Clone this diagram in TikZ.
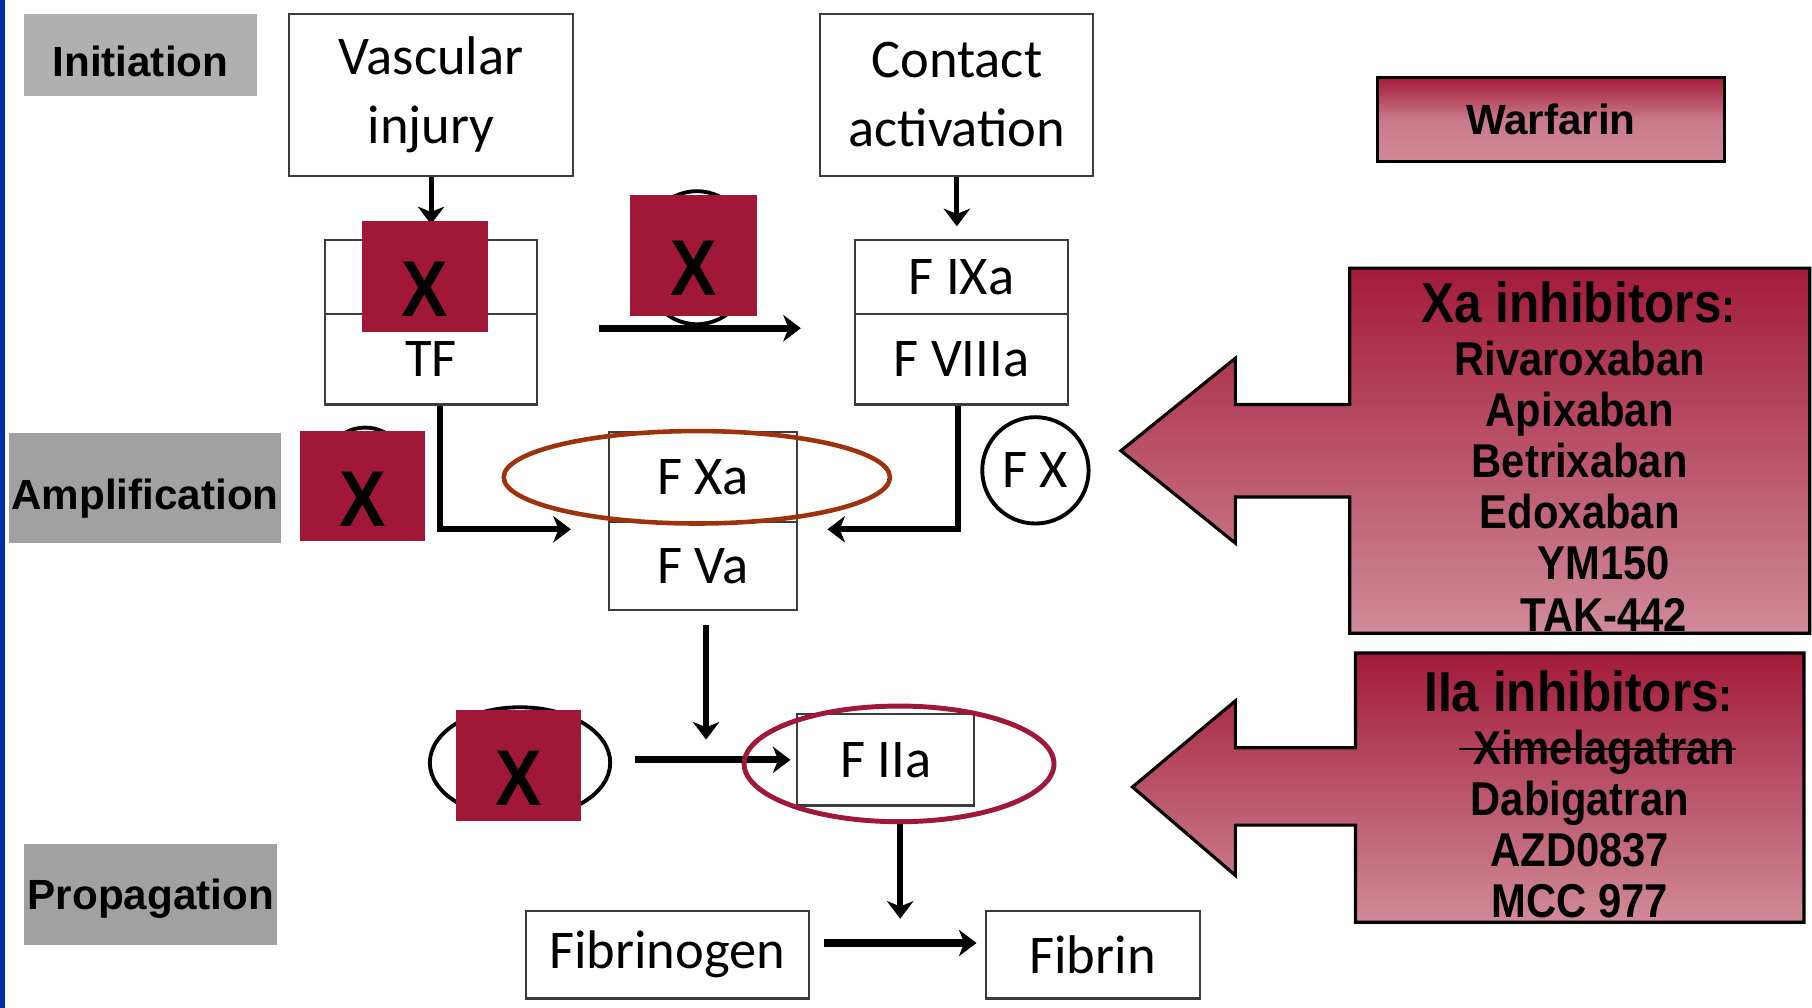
\documentclass[tikz,border=0pt]{standalone}
\usepackage{fontspec}
\setmainfont{Liberation Sans}
\newfontfamily\flowfont{Carlito}
\newfontfamily\narrowfont[FakeStretch=0.88]{Liberation Sans}
\usetikzlibrary{arrows.meta,positioning,shapes.geometric}

\newsavebox\strikebox
\newcommand\struck[1]{\sbox\strikebox{#1}\rlap{\rule[0.3em]{\wd\strikebox}{0.5pt}}\usebox\strikebox}

\definecolor{xred}{RGB}{160,23,55}
\definecolor{xabrown}{RGB}{158,50,12}
\definecolor{barblue}{RGB}{0,45,170}
\definecolor{stagelight}{RGB}{176,176,176}
\definecolor{stagegray}{RGB}{161,161,161}
\definecolor{cellline}{RGB}{60,60,60}
\definecolor{gradtop}{RGB}{163,27,58}
\definecolor{gradbot}{RGB}{208,138,152}

\begin{document}
\begin{tikzpicture}[x=0.011556cm,y=-0.011556cm,
	stage/.style={fill=stagegray,inner sep=0pt,text height=0.43cm,text depth=0pt,font=\bfseries\fontsize{12}{14}\selectfont},
	cell/.style={draw=cellline,line width=0.6pt,fill=white,inner sep=0pt,align=center,font=\flowfont\fontsize{15.5}{19.7}\selectfont},
	flow/.style={line width=1.4pt,-{Stealth[length=5pt,width=7.5pt,inset=1.5pt]}},
	ring/.style={draw,line width=1.1pt,circle,inner sep=0pt},
	xmark/.style={fill=xred,inner sep=0pt,text height=0.81cm,text depth=0pt,font=\narrowfont\bfseries\fontsize{22.5}{24}\selectfont},
	drug/.style={draw=black,line width=0.9pt,top color=gradtop,bottom color=gradbot},
	drugtext/.style={inner sep=0pt,align=center,font=\narrowfont\bfseries\fontsize{13.5}{14.56}\selectfont},
	drughead/.style={inner sep=0pt,font=\narrowfont\bfseries\fontsize{16}{18}\selectfont}
	]
	\useasboundingbox (0,0) rectangle (1568,872);
	\fill[barblue] (0,0) rectangle (4,872);

	\node[stage,fill=stagelight,minimum width=2.323cm,minimum height=0.820cm] (init) at (121.5,47.5) {Initiation};
	\node[stage,minimum width=2.716cm,minimum height=1.098cm] (ampl) at (125.5,422.5) {Amplification};
	\node[stage,text height=0.31cm,minimum width=2.531cm,minimum height=1.017cm] (prop) at (130.5,774) {Propagation};

	\node[cell,minimum width=2.843cm,minimum height=1.618cm] (vasc) at (373,82) {Vascular\\injury};
	\node[cell,minimum width=2.727cm,minimum height=1.618cm] (cont) at (828,82) {Contact\\activation};
	\node[cell,minimum width=2.126cm,minimum height=0.740cm] (tfup) at (373,240) {};
	\node[cell,minimum width=2.126cm,minimum height=0.901cm] (tf) at (373,311) {TF};
	\node[cell,minimum width=2.126cm,minimum height=0.740cm] (ixa) at (832,240) {F IXa};
	\node[cell,minimum width=2.126cm,minimum height=0.901cm] (viiia) at (832,311) {F VIIIa};
	\node[cell,minimum width=1.884cm,minimum height=0.901cm] (xa) at (608.5,413) {F Xa};
	\node[cell,minimum width=1.884cm,minimum height=0.878cm] (va) at (608.5,490) {F Va};
	\node[cell,minimum width=1.768cm,minimum height=0.913cm] (iia) at (766.5,657.5) {F IIa};
	\node[cell,minimum width=2.831cm,minimum height=0.878cm] (fbg) at (577.5,826) {Fibrinogen};
	\node[cell,minimum width=2.138cm,minimum height=0.878cm] (fib) at (945.5,826) {Fibrin};

	\coordinate (ixstart) at (518,284);
	\coordinate (ixend) at (693,284);
	\coordinate (xain) at (494,458);
	\coordinate (xain2) at (716,458);
	\coordinate (iiain) at (611,640);
	\coordinate (fibin) at (779,795);

	\draw[flow,shorten >=0.15cm] (vasc.south) -- (tfup.north);
	\draw[flow,shorten >=0.13cm] (cont.south) -- (cont.south |- ixa.north);
	\draw[flow,line width=2pt] (ixstart) -- (ixend);
	\draw[flow,line width=1.8pt] ([shift={(8,0)}]tf.south) |- (xain);
	\draw[flow,line width=1.8pt] ([shift={(-3,0)}]viiia.south) |- (xain2);
	\draw[flow,line width=1.6pt] ([shift={(2.5,12)}]va.south) -- (iiain);
	\draw[flow,line width=1.6pt] ([shift={(12.5,15)}]iia.south) -- (fibin);
	\draw[flow,line width=2pt,shorten <=0.139cm,shorten >=0.081cm] ([shift={(0,-10)}]fbg.east) -- ([shift={(0,-10)}]fib.west);

	\node[ring,ellipse,minimum width=1.15cm,minimum height=1.33cm] (ring2) at (603,223) {};
	\node[ring,ellipse,minimum width=0.95cm,minimum height=1.109cm] (ring3) at (316,418) {};
	\node[ring,ellipse,minimum width=1.803cm,minimum height=1.109cm] (ring4) at (450,660) {};
	\node[ring,minimum size=1.063cm,font=\flowfont\fontsize{15.5}{18}\selectfont] (fx) at (896,407) {F X};
	\draw[flow,line width=2pt,shorten <=0.231cm,shorten >=0.058cm] (ring4.east |- iia.west) -- (iia.west);

	\node[xmark,minimum width=1.260cm,minimum height=1.109cm] (x1) at (367.5,239) {X};
	\node[xmark,minimum width=1.271cm,minimum height=1.202cm] (x2) at (600,221) {X};
	\node[xmark,minimum width=1.248cm,minimum height=1.098cm] (x3) at (314,420.5) {X};
	\node[xmark,minimum width=1.248cm,minimum height=1.109cm] (x4) at (449,662) {X};

	\node[draw=xabrown,line width=1.3pt,ellipse,inner sep=0pt,minimum width=3.860cm,minimum height=0.924cm] (xaring) at (603,413) {};
	\node[draw=xred,line width=1.4pt,ellipse,inner sep=0pt,minimum width=3.097cm,minimum height=1.156cm] (iiaring) at (778,661) {};

	\node[drug,middle color=gradbot!85!gradtop,minimum width=3.467cm,minimum height=0.844cm,font=\bfseries\fontsize{12}{14}\selectfont] (warf) at (1342,103.5) {Warfarin};

	\draw[drug] (1168,232) -- (1566,232) -- (1566,548) -- (1168,548) -- (1168,430) -- (1069,430) -- (1069,470) -- (970,390) -- (1069,310) -- (1069,350) -- (1168,350) -- cycle;
	\node[drughead] (xahead) at (1366,262) {Xa inhibitors{\fontsize{13.5}{14}\selectfont:}};
	\node[drugtext] (xalist) at (1367,420.5) {Rivaroxaban\\Apixaban\\Betrixaban\\Edoxaban\\\hspace*{13.8pt}YM150\\\hspace*{13.8pt}TAK-442};

	\draw[drug] (1173,565) -- (1561,565) -- (1561,798) -- (1173,798) -- (1173,714) -- (1069,714) -- (1069,757.5) -- (980,681) -- (1069,606.5) -- (1069,647) -- (1173,647) -- cycle;
	\node[drughead] (iiahead) at (1366,598) {IIa inhibitors{\fontsize{13.5}{14}\selectfont:}};
	\node[drugtext] (iialist) at (1367,713) {\hspace*{10pt}\struck{\kern4pt Ximelagatran}\\Dabigatran\\AZD0837\\MCC 977};
\end{tikzpicture}
\end{document}
